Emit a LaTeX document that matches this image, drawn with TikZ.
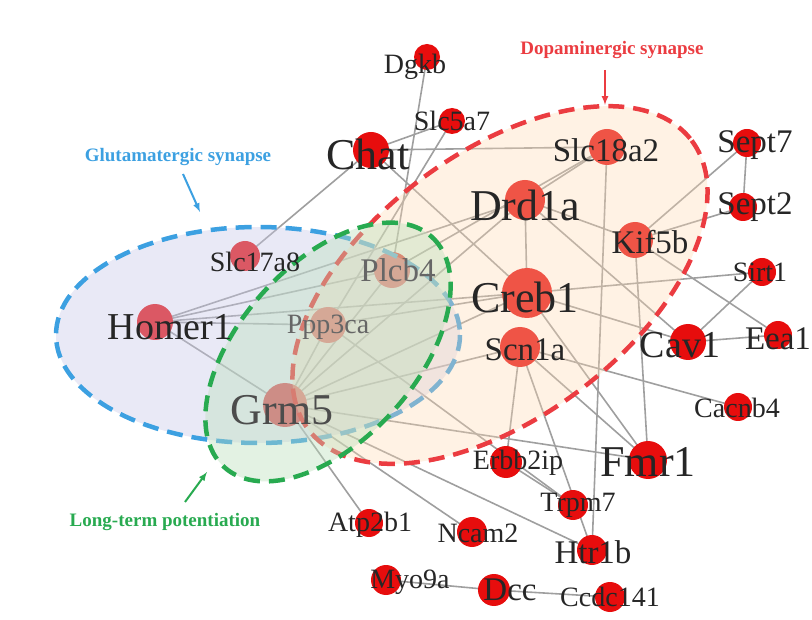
\documentclass[tikz,border=0pt]{standalone}
\usepackage{fontspec}
\setmainfont{Liberation Serif}
\begin{document}
\begin{tikzpicture}[x=1pt,y=-1pt,
  nd/.style={circle,fill=red!90!black!95,inner sep=0pt},
  lb/.style={font=\fontsize{28}{28}\selectfont,text=black!85},
  mid/.style={font=\fontsize{33}{33}\selectfont,text=black!85},
  big/.style={font=\fontsize{44}{44}\selectfont,text=black!85},
  ed/.style={draw=gray!75,line width=1.6pt},
  grp/.style={line width=4.5pt,dash pattern=on 16pt off 9pt}]
\useasboundingbox (0,0) rectangle (812,620);
\definecolor{cblue}{RGB}{60,160,225}
\definecolor{cred}{RGB}{235,60,65}
\definecolor{cgreen}{RGB}{40,170,80}
\foreach \n/\x/\y in {Dgkb/427/57,Slc5a7/452/121,Chat/371/150,Slc18a2/607/147,
 Sept7/747/143,Sept2/743/207,Drd1a/525/200,Kif5b/635/240,Slc17a8/245/256,
 Plcb4/392/270,Creb1/527/293,Sirt1/762/272,Homer1/155/322,Ppp3ca/328/325,
 Scn1a/520/347,Cav1/688/342,Eea1/778/335,Grm5/285/405,Cacnb4/738/407,
 Erbb2ip/506/462,Fmr1/648/460,Trpm7/573/505,Atp2b1/369/523,Ncam2/472/532,
 Htr1b/592/550,Myo9a/386/580,Dcc/494/590,Ccdc141/610/597}
 \coordinate (\n) at (\x,\y);
\foreach \a/\b in {Sept7/Sept2,Sept7/Kif5b,Sept2/Kif5b,Kif5b/Eea1,Kif5b/Fmr1,Sirt1/Creb1,Sirt1/Cav1,
 Cav1/Eea1,Cav1/Creb1,Drd1a/Cav1,Slc18a2/Htr1b,Slc18a2/Chat,Slc18a2/Drd1a,Slc18a2/Plcb4,
 Chat/Slc17a8,Chat/Creb1,Chat/Slc5a7,Dgkb/Plcb4,Slc5a7/Ppp3ca,Drd1a/Creb1,Drd1a/Grm5,Drd1a/Homer1,
 Creb1/Homer1,Creb1/Grm5,Creb1/Ppp3ca,Creb1/Fmr1,Scn1a/Erbb2ip,Scn1a/Grm5,Scn1a/Cacnb4,Scn1a/Fmr1,
 Scn1a/Htr1b,Grm5/Homer1,Grm5/Plcb4,Grm5/Ppp3ca,Grm5/Fmr1,Grm5/Atp2b1,Grm5/Ncam2,Grm5/Htr1b,
 Erbb2ip/Trpm7,Homer1/Plcb4,Ppp3ca/Trpm7,Myo9a/Dcc,Dcc/Ccdc141,Homer1/Ppp3ca,Drd1a/Kif5b}
 \draw[ed] (\a) -- (\b);
\foreach \n/\r in {Dgkb/13,Slc5a7/13,Chat/18,Slc18a2/18,Sept7/14,Sept2/14,Drd1a/20,Kif5b/18,Slc17a8/15,
 Plcb4/18,Creb1/25,Sirt1/14,Homer1/18,Ppp3ca/18,Scn1a/20,Cav1/18,Eea1/14,Grm5/22,Cacnb4/14,
 Erbb2ip/16,Fmr1/19,Trpm7/15,Atp2b1/14,Ncam2/15,Htr1b/15,Myo9a/15,Dcc/16,Ccdc141/15}
 \node[nd,minimum size=2*\r pt] (n\n) at (\n) {};
\draw[grp,draw=cblue,fill=blue!40!gray!30,fill opacity=0.4] (258,335) ellipse [x radius=202,y radius=108];
\draw[grp,draw=cred,fill=orange!30,fill opacity=0.35,rotate around={37:(500,285)}] (500,285) ellipse [x radius=240,y radius=132];
\draw[grp,draw=cgreen,fill=green!35!gray!40,fill opacity=0.4,rotate around={48:(328,352)}] (328,352) ellipse [x radius=155,y radius=88];
\node[lb] (tDgkb) at (415,67) {Dgkb};
\node[lb] (tSlc5a7) at (452,121) {Slc5a7};
\node[big] (tChat) at (368,154) {Chat};
\node[mid] (tSlc18a2) at (606,150) {Slc18a2};
\node[mid] (tSept7) at (755,145) {Sept7};
\node[mid] (tSept2) at (755,207) {Sept2};
\node[big] (tDrd1a) at (525,205) {Drd1a};
\node[mid] (tKif5b) at (650,242) {Kif5b};
\node[lb] (tSlc17a8) at (255,262) {Slc17a8};
\node[mid,text=black!60] (tPlcb4) at (398,270) {Plcb4};
\node[big] (tCreb1) at (525,297) {Creb1};
\node[lb] (tSirt1) at (760,272) {Sirt1};
\node[big,font=\fontsize{38}{38}\selectfont] (tHomer1) at (170,327) {Homer1};
\node[lb,text=black!60] (tPpp3ca) at (328,327) {Ppp3ca};
\node[mid] (tScn1a) at (525,350) {Scn1a};
\node[big,font=\fontsize{38}{38}\selectfont] (tCav1) at (680,345) {Cav1};
\node[mid] (tEea1) at (778,339) {Eea1};
\node[big,text=black!70] (tGrm5) at (282,410) {Grm5};
\node[lb] (tCacnb4) at (737,408) {Cacnb4};
\node[lb] (tErbb2ip) at (518,463) {Erbb2ip};
\node[big] (tFmr1) at (648,462) {Fmr1};
\node[lb] (tTrpm7) at (578,505) {Trpm7};
\node[lb] (tAtp2b1) at (370,525) {Atp2b1};
\node[lb] (tNcam2) at (478,533) {Ncam2};
\node[mid] (tHtr1b) at (593,552) {Htr1b};
\node[lb] (tMyo9a) at (410,582) {Myo9a};
\node[mid] (tDcc) at (510,590) {Dcc};
\node[lb] (tCcdc141) at (610,597) {Ccdc141};
\node[font=\bfseries\fontsize{19}{19}\selectfont,text=cblue] (gb) at (178,157) {Glutamatergic synapse};
\node[font=\bfseries\fontsize{19}{19}\selectfont,text=cred] (gr) at (612,50) {Dopaminergic synapse};
\node[font=\bfseries\fontsize{19}{19}\selectfont,text=cgreen] (gg) at (165,522) {Long-term potentiation};
\coordinate (ab) at (200,212); \coordinate (ar) at (605,105); \coordinate (ag) at (207,472);
\draw[-latex,cblue,line width=2pt] (183,174) -- (ab);
\draw[-latex,cred,line width=2pt] (605,70) -- (ar);
\draw[-latex,cgreen,line width=2pt] (185,502) -- (ag);
\end{tikzpicture}
\end{document}
